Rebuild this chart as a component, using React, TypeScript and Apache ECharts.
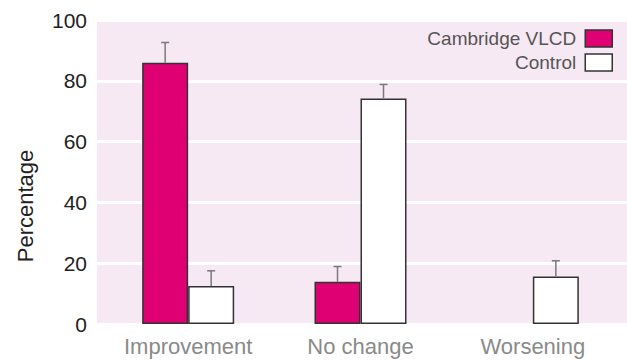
import React, { useEffect, useRef } from "react";
import * as echarts from "echarts";

const categories = ["Improvement", "No change", "Worsening"];
const vlcdValues = [85.9, 13.9, 0];
const vlcdUpper = [92.6, 18.9, null];
const controlValues = [12.5, 74.2, 15.6];
const controlUpper = [17.5, 78.8, 20.8];
const yTicks = [0, 20, 40, 60, 80, 100];

const FONT = "'Liberation Sans', Arial, Helvetica, sans-serif";
const PINK = "#df0074";
const BAR_W = 46;

export default function App() {
  const ref = useRef<HTMLDivElement>(null);
  useEffect(() => {
    if (!ref.current) return;
    const chart = echarts.init(ref.current, null, { renderer: "svg" });
    const errData = (vals: (number | null)[], base: number[]) =>
      vals.map((u, i) => [i, base[i], u == null ? base[i] : u]);
    const makeErr = (name: string, vals: (number | null)[], base: number[], off: number) => ({
      type: "custom",
      name: name + "-err",
      xAxisIndex: 1,
      yAxisIndex: 1,
      z: 5,
      data: errData(vals, base),
      renderItem: (params: any, api: any) => {
        const i = api.value(0);
        const lo = api.coord([i, api.value(1)]);
        const hi = api.coord([i, api.value(2)]);
        if (Math.abs(lo[1] - hi[1]) < 0.5) return { type: "group", children: [] };
        const x = lo[0] + off;
        const style = { stroke: "#7a7a7a", lineWidth: 1.5 };
        return {
          type: "group",
          children: [
            { type: "line", shape: { x1: x, y1: lo[1], x2: x, y2: hi[1] }, style },
            { type: "line", shape: { x1: x - 4, y1: hi[1], x2: x + 4, y2: hi[1] }, style },
          ],
        };
      },
    });
    const barData = (vals: number[]) =>
      vals.map((v) => (v === 0 ? { value: v, itemStyle: { borderWidth: 0, opacity: 0 } } : v));
    chart.setOption({
      animation: false,
      grid: [
        { left: 97, right: 0, top: 20, bottom: 36, show: true, backgroundColor: "#f7e9f4", borderWidth: 0 },
        { left: 102, right: 8, top: 20, bottom: 36 },
      ],
      xAxis: [
        { type: "value", gridIndex: 0, show: false, min: 0, max: 1 },
        {
          type: "category",
          gridIndex: 1,
          data: categories,
          axisLine: { show: false },
          axisTick: { show: false },
          axisLabel: { color: "#8a8a8a", fontSize: 22, fontFamily: FONT, margin: 11 },
        },
      ],
      yAxis: [
        {
          type: "value",
          gridIndex: 0,
          min: yTicks[0],
          max: yTicks[yTicks.length - 1],
          interval: 20,
          axisLine: { show: false },
          axisTick: { show: false },
          axisLabel: { color: "#222", fontSize: 21, fontFamily: FONT, margin: 10 },
          splitLine: { show: true, lineStyle: { color: "#ffffff", width: 3 } },
        },
        { type: "value", gridIndex: 1, min: 0, max: 100, show: false },
      ],
      legend: {
        orient: "vertical",
        right: 9,
        top: 24,
        align: "right",
        icon: "rect",
        itemWidth: 27,
        itemHeight: 17,
        itemGap: 5,
        data: ["Cambridge VLCD", "Control"],
        itemStyle: { borderColor: "#333", borderWidth: 1.5 },
        textStyle: { color: "#555", fontSize: 19, lineHeight: 17, fontFamily: FONT, padding: [0, 4, 0, 0] },
      },
      graphic: [
        {
          type: "text",
          x: 25,
          y: 206,
          rotation: Math.PI / 2,
          style: {
            text: "Percentage",
            fontSize: 22,
            fontFamily: FONT,
            fill: "#222",
            align: "center",
            verticalAlign: "middle",
          },
        },
      ],
      series: [
        {
          name: "Cambridge VLCD",
          type: "bar",
          xAxisIndex: 1,
          yAxisIndex: 1,
          barWidth: BAR_W,
          barGap: "0%",
          data: barData(vlcdValues),
          itemStyle: { color: PINK, borderColor: "#333", borderWidth: 1.5 },
        },
        {
          name: "Control",
          type: "bar",
          xAxisIndex: 1,
          yAxisIndex: 1,
          barWidth: BAR_W,
          barGap: "0%",
          data: barData(controlValues),
          itemStyle: { color: "#ffffff", borderColor: "#333", borderWidth: 1.5 },
        },
        makeErr("vlcd", vlcdUpper, vlcdValues, -BAR_W / 2),
        makeErr("control", controlUpper, controlValues, BAR_W / 2),
      ],
    });
    return () => chart.dispose();
  }, []);
  return (
    <div
      ref={ref}
      style={{ position: "fixed", left: 0, top: 0, width: 627, height: 360, background: "#fff" }}
    />
  );
}
